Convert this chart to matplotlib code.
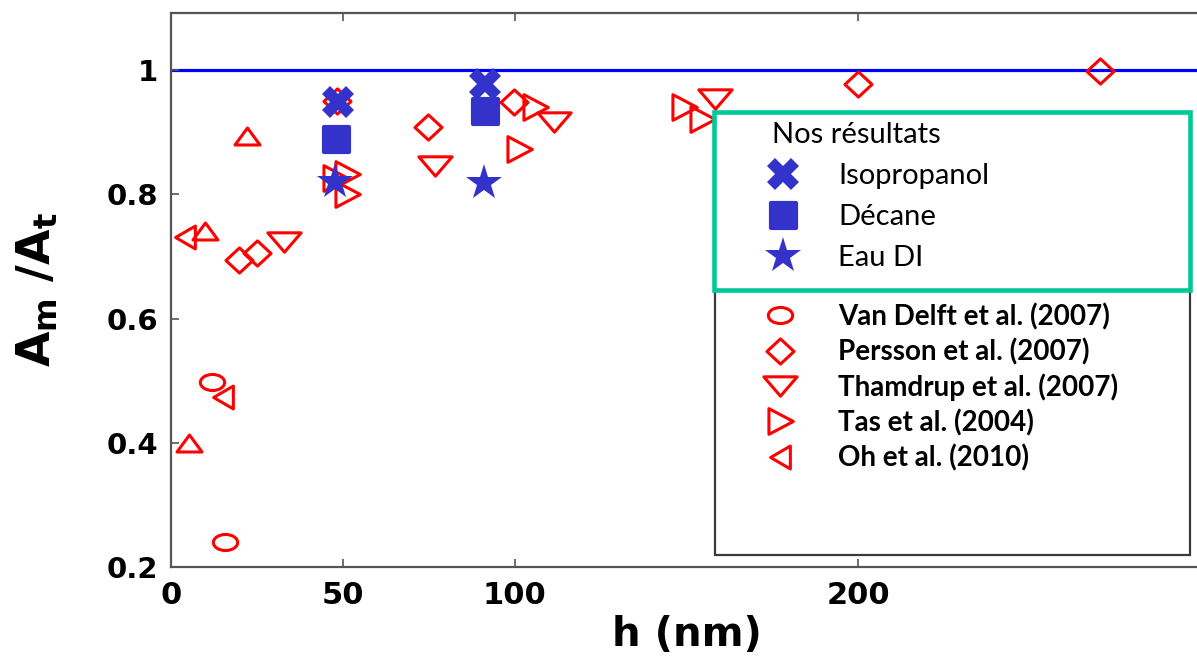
import matplotlib
matplotlib.use("Agg")
import matplotlib.pyplot as plt
from matplotlib.lines import Line2D
from matplotlib.markers import MarkerStyle
from matplotlib.patches import Rectangle
from matplotlib.path import Path
from matplotlib.transforms import Affine2D

# values: channel height h (nm) vs A_m/A_t
vandelft_h = [11.9, 15.7]
vandelft_r = [0.498, 0.241]
persson_h = [19.8, 25.0, 48.2, 74.8, 99.8, 199.9, 270.3]
persson_r = [0.694, 0.705, 0.951, 0.908, 0.948, 0.977, 0.998]
thamdrup_h = [32.9, 76.8, 111.4, 158.3]
thamdrup_r = [0.723, 0.845, 0.916, 0.953]
tas_h = [47.6, 51.2, 51.2, 101.3, 105.9, 149.3, 154.5]
tas_r = [0.826, 0.833, 0.800, 0.873, 0.940, 0.940, 0.921]
oh_h = [4.1, 15.1]
oh_r = [0.731, 0.473]
other_h = [5.2, 9.9, 22.1]
other_r = [0.399, 0.741, 0.894]

iso_h = [48.6, 91.4]
iso_r = [0.949, 0.977]
decane_h = [48.0, 91.4]
decane_r = [0.889, 0.934]
eau_h = [47.7, 91.1]
eau_r = [0.820, 0.818]

x_ticks = [0, 50, 100, 200]
y_ticks = [0.2, 0.4, 0.6, 0.8, 1.0]
y_ticklabels = ["0.2", "0.4", "0.6", "0.8", "1"]

ours_labels = ["Isopropanol", "Décane", "Eau DI"]
lit_labels = ["Van Delft et al. (2007)", "Persson et al. (2007)",
              "Thamdrup et al. (2007)", "Tas et al. (2004)", "Oh et al. (2010)"]

RED = "#ff0000"
BLUE = "#3333cc"
GREEN = "#00c896"

# open markers, slightly wider than tall like in the original
ELLIPSE = Affine2D().scale(1.0, 0.66).transform_path(Path.unit_circle())
DIAMOND = Path([(0, 0.93), (1, 0), (0, -0.93), (-1, 0), (0, 0.93)], closed=True)
TRI_DOWN = Path([(-1, 0.58), (1, 0.58), (0, -0.58), (-1, 0.58)], closed=True)
TRI_UP = Path([(-1, -0.68), (1, -0.68), (0, 0.68), (-1, -0.68)], closed=True)
TRI_RIGHT = Path([(-0.9, 1), (1, 0), (-0.9, -1), (-0.9, 1)], closed=True)
TRI_LEFT = Path([(0.86, 1), (-0.86, 0), (0.86, -1), (0.86, 1)], closed=True)
SQUARE = MarkerStyle("s", joinstyle="round")

red_style = [
    (ELLIPSE, 17.5), (DIAMOND, 19.5), (TRI_DOWN, 24), (TRI_RIGHT, 18.5), (TRI_LEFT, 16.5),
]
blue_style = [("X", 23, 0), (SQUARE, 18, 3), ("*", 27, 0)]

plt.rcParams["font.family"] = ["DejaVu Sans"]

W, H = 1197, 657
fig = plt.figure(figsize=(W / 100, H / 100), dpi=100)
ax = fig.add_axes([171 / W, (H - 567) / H, 1031 / W, (567 - 12.7) / H])
ax.set_xlim(0, 300)
ax.set_ylim(0.2, 1.0926)

ax.axhline(1.0, color="#0000ff", lw=2.3, zorder=1)

red_series = [(vandelft_h, vandelft_r), (persson_h, persson_r), (thamdrup_h, thamdrup_r),
              (tas_h, tas_r), (oh_h, oh_r)]
for (hx, ry), (mk, ms) in zip(red_series, red_style):
    ax.plot(hx, ry, ls="none", marker=mk, ms=ms, mfc="none", mec=RED, mew=2.2, zorder=2)
ax.plot(other_h, other_r, ls="none", marker=TRI_UP, ms=18, mfc="none", mec=RED, mew=2.2, zorder=2)

blue_series = [(iso_h, iso_r), (decane_h, decane_r), (eau_h, eau_r)]
for (hx, ry), (mk, ms, mw) in zip(blue_series, blue_style):
    ax.plot(hx, ry, ls="none", marker=mk, ms=ms, color=BLUE, mew=mw, zorder=3)

ax.set_xticks(x_ticks)
ax.set_xticklabels([str(v) for v in x_ticks])
ax.set_yticks(y_ticks)
ax.set_yticklabels(y_ticklabels)
ax.tick_params(direction="in", top=True, right=False, length=6, width=1.2, color="#555555")
ax.tick_params(axis="x", pad=10)
ax.tick_params(axis="y", pad=9.5)
plt.setp(ax.get_xticklabels(), fontweight="bold", fontsize=22)
plt.setp(ax.get_yticklabels(), fontweight="bold", fontsize=21)
for side in ("left", "bottom", "top", "right"):
    ax.spines[side].set_color("#555555")
    ax.spines[side].set_linewidth(1.6)

ax.set_xlabel("h (nm)", fontsize=29, fontweight="bold", labelpad=4)
ax.set_ylabel(r"$\mathbf{A_m\ /A_t}$", fontsize=33, labelpad=33)

# legend frames (drawn in figure pixels)
def fig_rect(x0, y0, x1, y1, **kw):
    return Rectangle((x0 / W, 1 - y1 / H), (x1 - x0) / W, (y1 - y0) / H,
                     transform=fig.transFigure, clip_on=False, **kw)

ax.add_patch(fig_rect(715, 120, 1190, 555, facecolor="white", edgecolor="#3a3a3a", lw=1.6, zorder=4))
ax.add_patch(fig_rect(714, 112, 1190, 290, facecolor="white", edgecolor=GREEN, lw=3.3, zorder=4.5))

ours_handles = [Line2D([], [], ls="none", marker=mk, ms=ms, color=BLUE, mew=mw)
                for mk, ms, mw in blue_style]
leg1 = ax.legend(ours_handles, ours_labels, title="Nos résultats", alignment="left",
                 loc="upper left", bbox_to_anchor=(772 / W, 1 - 122 / H),
                 bbox_transform=fig.transFigure, frameon=False, borderpad=0, borderaxespad=0,
                 handlelength=0.76, handletextpad=1.5, labelspacing=0.52,
                 prop={"family": "Lato", "size": 21},
                 title_fontproperties={"family": "Lato", "size": 21})
leg1.set_zorder(6)
ax.add_artist(leg1)

lit_handles = [Line2D([], [], ls="none", marker=mk, ms=ms, mfc="none", mec=RED, mew=2.2)
               for mk, ms in red_style]
leg2 = ax.legend(lit_handles, lit_labels, loc="upper left",
                 bbox_to_anchor=(752 / W, 1 - 303 / H), bbox_transform=fig.transFigure,
                 frameon=False, borderpad=0, borderaxespad=0,
                 handlelength=2.0, handletextpad=1.1, labelspacing=0.29,
                 prop={"family": "Lato", "weight": "bold", "size": 20})
leg2.set_zorder(6)

fig.savefig("out.png", dpi=100)
